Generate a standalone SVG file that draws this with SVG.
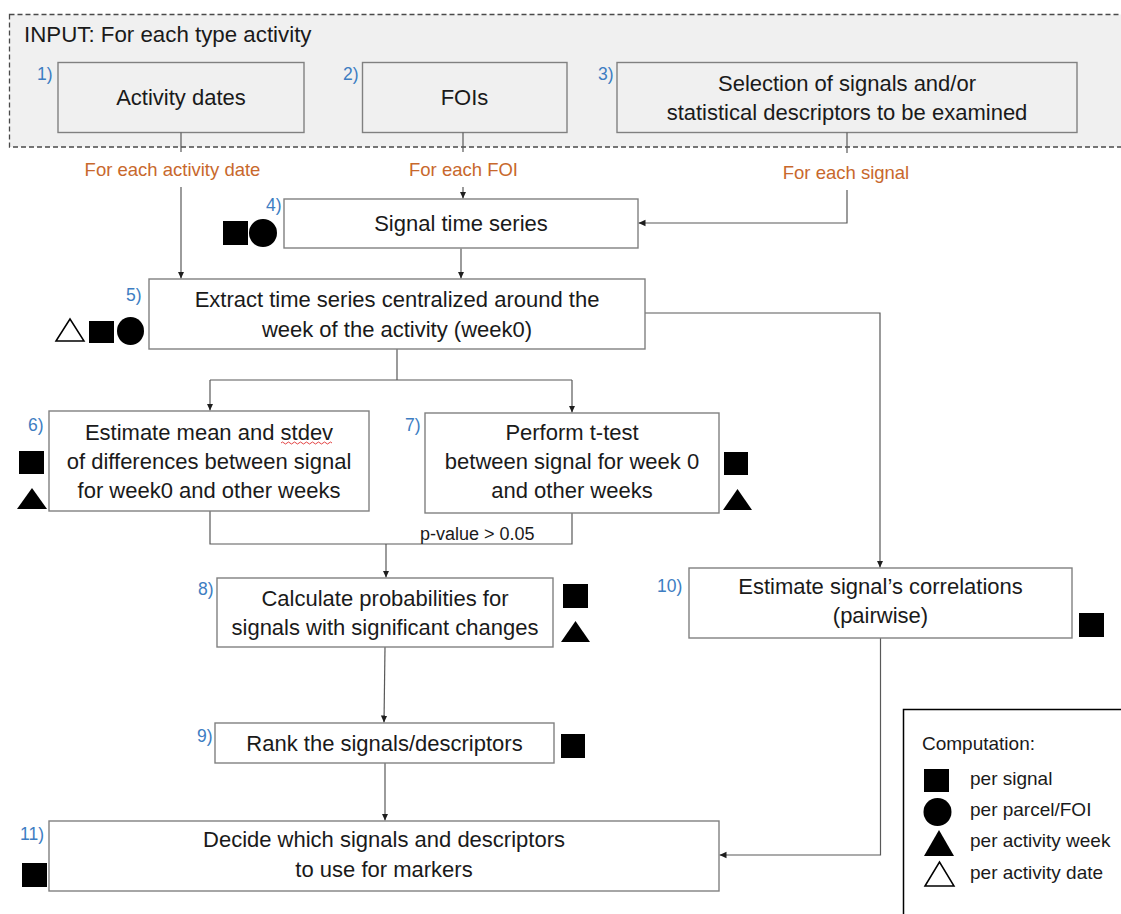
<svg xmlns="http://www.w3.org/2000/svg" width="1121" height="914" viewBox="0 0 1121 914">
<style>
  .box { fill: #ffffff; stroke: #808080; stroke-width: 1.4; }
  .inbox { fill: none; stroke: #808080; stroke-width: 1.4; }
  .t { font-family: "Liberation Sans", Arial, sans-serif; font-size: 22px; fill: #1a1a1a; text-anchor: middle; }
  .num { font-family: "Liberation Sans", Arial, sans-serif; font-size: 17.5px; fill: #3d7dc2; }
  .or { font-family: "Liberation Sans", Arial, sans-serif; font-size: 18.5px; fill: #c8682c; text-anchor: middle; }
  .pv { font-family: "Liberation Sans", Arial, sans-serif; font-size: 18px; fill: #1a1a1a; }
  .lg { font-family: "Liberation Sans", Arial, sans-serif; font-size: 19px; fill: #1a1a1a; }
  .ln { fill: none; stroke: #595959; stroke-width: 1.2; }
  .arr { fill: none; stroke: #595959; stroke-width: 1.2; marker-end: url(#ah); }
  .sym { fill: #000000; }
  .osym { fill: #ffffff; stroke: #000000; stroke-width: 1.5; }
</style>
<defs>
  <marker id="ah" markerWidth="8" markerHeight="8" refX="7" refY="4" orient="auto" markerUnits="userSpaceOnUse">
    <path d="M0,0.8 L7,4 L0,7.2 Z" fill="#1e1e1e"/>
  </marker>
</defs>

<rect width="1121" height="914" fill="#ffffff"/>

<!-- Input region -->
<g id="input-region">
  <rect x="9.5" y="14.5" width="1130" height="132.5" fill="#f0f0f0" stroke="#4a4a4a" stroke-width="1.3" stroke-dasharray="5 3"/>
  <text x="24" y="42" font-family="Liberation Sans, Arial, sans-serif" font-size="22.3px" fill="#1a1a1a">INPUT: For each type activity</text>
</g>

<g id="node1">
  <rect class="inbox" x="58" y="62.5" width="246" height="70"/>
  <text class="num" x="37" y="80">1)</text>
  <text class="t" x="181" y="105">Activity dates</text>
</g>
<g id="node2">
  <rect class="inbox" x="362.5" y="62.5" width="204.5" height="70"/>
  <text class="num" x="343" y="80">2)</text>
  <text class="t" x="464.5" y="105">FOIs</text>
</g>
<g id="node3">
  <rect class="inbox" x="617" y="62.5" width="460" height="70"/>
  <text class="num" x="598" y="80">3)</text>
  <text class="t" x="847" y="91">Selection of signals and/or</text>
  <text class="t" x="847" y="120">statistical descriptors to be examined</text>
</g>

<!-- Connectors -->
<g id="connectors">
  <path class="ln" d="M181,132.5 V152"/>
  <path class="arr" d="M181,187 V278.5"/>
  <path class="ln" d="M463,132.5 V152"/>
  <path class="arr" d="M463,187 V198.5"/>
  <path class="ln" d="M847,132.5 V153"/>
  <path class="arr" d="M847,190 V223 H638.5"/>
  <path class="arr" d="M461,248.5 V278.5"/>
  <path class="arr" d="M645,313 H880 V567.5"/>
  <path class="ln" d="M397,349 V380 M210,380 H572"/>
  <path class="arr" d="M210,380 V410.5"/>
  <path class="arr" d="M572,380 V412.5"/>
  <path class="ln" d="M210,511 V544 H572 V513"/>
  <path class="arr" d="M386,544 V577.5"/>
  <path class="arr" d="M385,647 L384,722.5"/>
  <path class="arr" d="M385,763 V820.5"/>
  <path class="arr" d="M880.5,638 V855 H719.5"/>
  <text class="or" x="172.5" y="176">For each activity date</text>
  <text class="or" x="463.5" y="176">For each FOI</text>
  <text class="or" x="846" y="179">For each signal</text>
  <text class="pv" x="420" y="540">p-value &gt; 0.05</text>
</g>

<g id="node4">
  <rect class="box" x="284" y="199" width="354" height="49"/>
  <text class="num" x="266" y="211">4)</text>
  <text class="t" x="461" y="231">Signal time series</text>
  <rect class="sym" x="223" y="221" width="25" height="24"/>
  <circle class="sym" cx="263" cy="233" r="14"/>
</g>

<g id="node5">
  <rect class="box" x="149" y="279" width="496" height="70"/>
  <text class="num" x="126" y="301">5)</text>
  <text class="t" x="397" y="307">Extract time series centralized around the</text>
  <text class="t" x="397" y="337">week of the activity (week0)</text>
  <polygon class="osym" points="56,341 70,319 84,341"/>
  <rect class="sym" x="89" y="321" width="25" height="22"/>
  <ellipse class="sym" cx="130.5" cy="331" rx="13.5" ry="14"/>
</g>

<g id="node6">
  <rect class="box" x="49" y="411" width="320" height="100"/>
  <text class="num" x="28" y="431">6)</text>
  <text class="t" x="209" y="440">Estimate mean and stdev</text>
  <path d="M281,443 q1.5,-2 3,0 t3,0 t3,0 t3,0 t3,0 t3,0 t3,0 t3,0 t3,0 t3,0 t3,0 t3,0 t3,0 t3,0 t3,0 t3,0 t3,0" fill="none" stroke="#e03030" stroke-width="0.9"/>
  <text class="t" x="209" y="469">of differences between signal</text>
  <text class="t" x="209" y="498">for week0 and other weeks</text>
  <rect class="sym" x="19" y="451" width="25" height="23"/>
  <polygon class="sym" points="17,509 32,488 47,509"/>
</g>

<g id="node7">
  <rect class="box" x="425" y="413" width="294" height="100"/>
  <text class="num" x="405" y="431">7)</text>
  <text class="t" x="572" y="440">Perform t-test</text>
  <text class="t" x="572" y="469">between signal for week 0</text>
  <text class="t" x="572" y="498">and other weeks</text>
  <rect class="sym" x="724" y="452" width="24" height="23"/>
  <polygon class="sym" points="723,510 737.5,489 752,510"/>
</g>

<g id="node8">
  <rect class="box" x="217" y="578" width="336" height="69"/>
  <text class="num" x="198" y="595">8)</text>
  <text class="t" x="385" y="606">Calculate probabilities for</text>
  <text class="t" x="385" y="635">signals with significant changes</text>
  <rect class="sym" x="563" y="584" width="25" height="24"/>
  <polygon class="sym" points="561,642 575.5,621 590,642"/>
</g>

<g id="node9">
  <rect class="box" x="215" y="723" width="339" height="40"/>
  <text class="num" x="197" y="742">9)</text>
  <text class="t" x="384.5" y="751">Rank the signals/descriptors</text>
  <rect class="sym" x="561" y="734" width="24" height="24"/>
</g>

<g id="node10">
  <rect class="box" x="689" y="568" width="383" height="70"/>
  <text class="num" x="657" y="592">10)</text>
  <text class="t" x="880.5" y="594">Estimate signal’s correlations</text>
  <text class="t" x="880.5" y="623">(pairwise)</text>
  <rect class="sym" x="1079" y="613" width="25" height="24"/>
</g>

<g id="node11">
  <rect class="box" x="49" y="821" width="670" height="70"/>
  <text class="num" x="20" y="840">11)</text>
  <text class="t" x="384" y="847">Decide which signals and descriptors</text>
  <text class="t" x="384" y="877">to use for markers</text>
  <rect class="sym" x="22" y="863" width="25" height="24"/>
</g>

<g id="legend">
  <rect x="903.5" y="709.5" width="230" height="220" fill="#ffffff" stroke="#000000" stroke-width="1.5"/>
  <text class="lg" x="922" y="750">Computation:</text>
  <rect class="sym" x="924" y="769" width="25" height="23"/>
  <text class="lg" x="970" y="785">per signal</text>
  <circle class="sym" cx="937.5" cy="812" r="14"/>
  <text class="lg" x="970" y="816">per parcel/FOI</text>
  <polygon class="sym" points="924,856 939,830 954,856"/>
  <text class="lg" x="970" y="847">per activity week</text>
  <polygon class="osym" points="925,886 939.5,862 954,886"/>
  <text class="lg" x="970" y="879">per activity date</text>
</g>
</svg>
